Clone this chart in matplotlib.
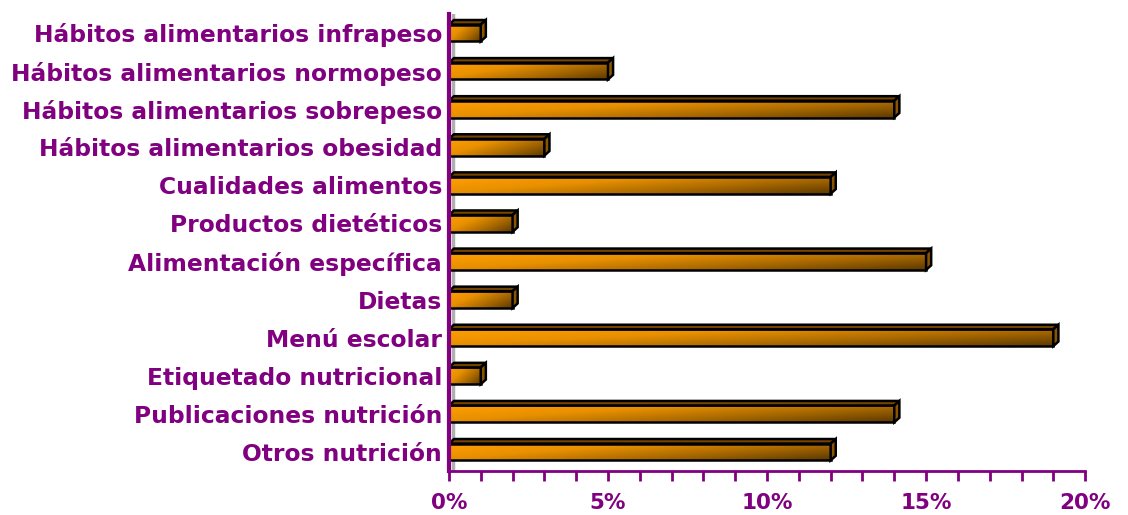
import numpy as np
import matplotlib.pyplot as plt
from matplotlib.patches import Polygon
from matplotlib.colors import LinearSegmentedColormap
from matplotlib.ticker import MultipleLocator, FuncFormatter

categories = [
    "Otros nutrición",
    "Publicaciones nutrición",
    "Etiquetado nutricional",
    "Menú escolar",
    "Dietas",
    "Alimentación específica",
    "Productos dietéticos",
    "Cualidades alimentos",
    "Hábitos alimentarios obesidad",
    "Hábitos alimentarios sobrepeso",
    "Hábitos alimentarios normopeso",
    "Hábitos alimentarios infrapeso",
]
values = [12, 14, 1, 19, 2, 15, 2, 12, 3, 14, 5, 1]

purple = "#800080"
grad = LinearSegmentedColormap.from_list("bar", ["#FF9E00", "#E89000", "#A86800", "#5E3A00"])

fig = plt.figure(figsize=(11.28, 5.15), dpi=100)
ax = fig.add_axes([0.398, 0.0854, 0.564, 0.8876])

y = np.arange(len(categories))
h = 0.44
dx, dy = 0.16, 0.12

bars = ax.barh(y, values, height=h, color="none", edgecolor="black", linewidth=1.8, zorder=4)

# gradient for the front faces
gx = np.linspace(0, 1, 200)
gy = np.linspace(0, 1, 20)
GX, GY = np.meshgrid(gx, gy)
img = 0.7 * GX + 0.4 * GY

for b, v, yy in zip(bars, values, y):
    im = ax.imshow(img, cmap=grad, vmin=0, vmax=1.1, extent=[0, v, yy - h / 2, yy + h / 2],
                   origin="upper", aspect="auto", zorder=3)
    im.set_clip_path(b)
    top = Polygon([(0, yy + h / 2), (v, yy + h / 2), (v + dx, yy + h / 2 + dy), (dx, yy + h / 2 + dy)],
                  closed=True, facecolor="#744400", edgecolor="black", linewidth=1.8, zorder=4)
    side = Polygon([(v, yy - h / 2), (v + dx, yy - h / 2 + dy), (v + dx, yy + h / 2 + dy), (v, yy + h / 2)],
                   closed=True, facecolor="#8A5500", edgecolor="black", linewidth=1.8, zorder=4)
    ax.add_patch(top)
    ax.add_patch(side)

ax.set_xlim(0, 20)
ax.set_ylim(-0.5, 11.5)

# wall shadow next to the axis
ax.axvline(0.12, color="#B0B0B0", linewidth=2.5, zorder=1)

ax.set_yticks(y)
ax.set_yticklabels(categories)
ax.tick_params(axis="y", length=0, pad=5, labelsize=16.8, labelcolor=purple)
for t in ax.get_yticklabels():
    t.set_fontweight("bold")

ax.xaxis.set_major_locator(MultipleLocator(5))
ax.xaxis.set_minor_locator(MultipleLocator(1))
ax.xaxis.set_major_formatter(FuncFormatter(lambda v, p: f"{int(v)}%"))
ax.tick_params(axis="x", which="both", direction="out", length=7, width=2, color=purple,
               labelsize=15.5, labelcolor=purple, pad=9)
for t in ax.get_xticklabels():
    t.set_fontweight("bold")

for s in ["top", "right"]:
    ax.spines[s].set_visible(False)
ax.spines["left"].set_color(purple)
ax.spines["left"].set_linewidth(3)
ax.spines["bottom"].set_color(purple)
ax.spines["bottom"].set_linewidth(2)
ax.spines["left"].set_zorder(5)

fig.savefig("out.png", dpi=100)
